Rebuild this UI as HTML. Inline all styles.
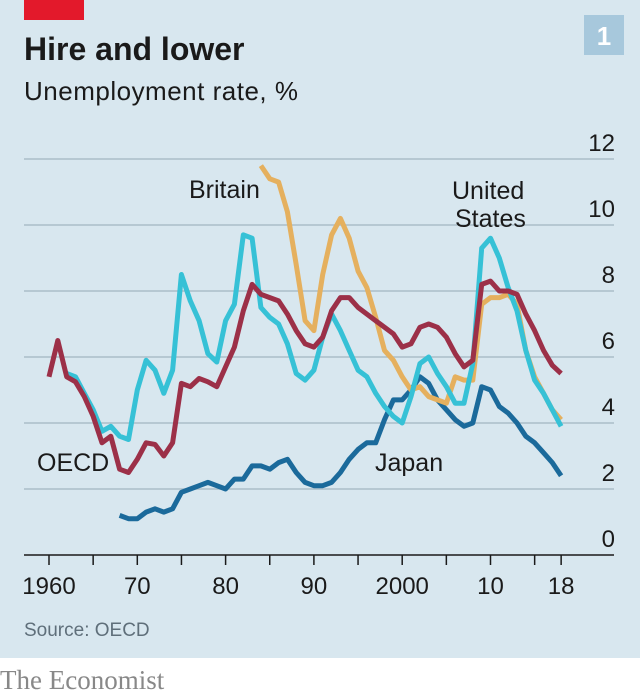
<!DOCTYPE html>
<html><head><meta charset="utf-8"><style>
html,body{margin:0;padding:0;background:#fff;}
svg{display:block;}
</style></head><body>
<svg width="640" height="697" viewBox="0 0 640 697" xmlns="http://www.w3.org/2000/svg" font-family="Liberation Sans, sans-serif">
<rect x="0" y="0" width="640" height="658" fill="#d8e7ef"/>
<rect x="24" y="0" width="60" height="20" fill="#e3192b"/>
<rect x="584" y="15" width="40" height="40" fill="#a7c8dc"/>
<text x="604" y="45" font-size="26" font-weight="bold" fill="#fff" text-anchor="middle">1</text>
<text x="24" y="60" font-size="32" font-weight="bold" fill="#1a1a1a">Hire and lower</text>
<text x="24" y="100" font-size="26" fill="#1a1a1a" textLength="274">Unemployment rate, %</text>
<g id="grid"></g>
<g id="series"></g>
<g id="labels"></g>
<text x="24" y="636" font-size="19" fill="#5f6f7a">Source: OECD</text>
<text x="0" y="689" font-size="27" fill="#888" font-family="Liberation Serif, serif">The Economist</text>
</svg>
<script>
const yTicks = [0,2,4,6,8,10,12];
const xTickYears = [1960,1965,1970,1975,1980,1985,1990,1995,2000,2005,2010,2015,2018];
const xLabelYears = [1960,1970,1980,1990,2000,2010,2018];
const xLabelText = ["1960","70","80","90","2000","10","18"];
const oecdStart = 1960;
const oecdValues = [5.4,6.5,5.4,5.25,4.8,4.2,3.4,3.6,2.6,2.5,2.9,3.4,3.35,3.0,3.4,5.2,5.1,5.35,5.25,5.1,5.7,6.3,7.4,8.2,7.9,7.8,7.7,7.3,6.8,6.4,6.3,6.6,7.4,7.8,7.8,7.5,7.3,7.1,6.9,6.7,6.3,6.4,6.9,7.0,6.9,6.6,6.1,5.7,5.9,8.2,8.3,8.0,8.0,7.9,7.3,6.8,6.2,5.75,5.5];
const usStart = 1962;
const usValues = [5.5,5.4,4.9,4.4,3.75,3.9,3.6,3.5,5.0,5.9,5.6,4.9,5.6,8.5,7.7,7.1,6.1,5.85,7.1,7.6,9.7,9.6,7.5,7.2,7.0,6.4,5.5,5.3,5.6,6.6,7.3,6.8,6.2,5.6,5.4,4.9,4.5,4.2,4.0,4.8,5.8,6.0,5.5,5.1,4.6,4.6,5.8,9.3,9.6,9.0,8.1,7.4,6.2,5.3,4.9,4.4,3.9];
const britainStart = 1984;
const britainValues = [11.8,11.4,11.3,10.4,8.8,7.1,6.8,8.5,9.7,10.2,9.6,8.6,8.1,7.2,6.2,5.9,5.4,5.0,5.1,4.8,4.7,4.6,5.4,5.3,5.3,7.6,7.8,7.8,7.9,7.6,6.2,5.4,4.9,4.4,4.1];
const japanStart = 1968;
const japanValues = [1.2,1.1,1.1,1.3,1.4,1.3,1.4,1.9,2.0,2.1,2.2,2.1,2.0,2.3,2.3,2.7,2.7,2.6,2.8,2.9,2.5,2.2,2.1,2.1,2.2,2.5,2.9,3.2,3.4,3.4,4.1,4.7,4.7,5.0,5.4,5.2,4.7,4.4,4.1,3.9,4.0,5.1,5.0,4.5,4.3,4.0,3.6,3.4,3.1,2.8,2.4];

const NS = "http://www.w3.org/2000/svg";
const xS = yr => 49 + (yr - 1960) * 8.83;
const yS = v => 555 - v * 33;
function mk(tag, attrs, parent){const e=document.createElementNS(NS,tag);for(const k in attrs)e.setAttribute(k,attrs[k]);parent.appendChild(e);return e;}
const grid=document.getElementById('grid'), series=document.getElementById('series'), labels=document.getElementById('labels');

yTicks.forEach(v=>{
  if(v>0){
    const l=mk('line',{x1:24,x2:614,y1:yS(v),y2:yS(v),stroke:'#aabdc8','stroke-width':1.5},grid);
    
    
  }
  const t=mk('text',{x:615,y:yS(v)-8,'font-size':24,fill:'#1a1a1a','text-anchor':'end'},grid);
  t.textContent=v;
  
  
});
const ax=mk('line',{x1:24,x2:614,y1:555,y2:555,stroke:'#1a1a1a','stroke-width':1.5},grid);


xTickYears.forEach(y=>{
  const l=mk('line',{x1:xS(y),x2:xS(y),y1:555,y2:565,stroke:'#1a1a1a','stroke-width':1.5},grid);
  
  
});
xLabelYears.forEach((y,i)=>{
  const t=mk('text',{x:xS(y),y:594,'font-size':24,fill:'#1a1a1a','text-anchor':'middle'},grid);
  t.textContent=xLabelText[i];
  
  
});

function line(start, vals, color, name){
  const d=vals.map((v,i)=>(i?'L':'M')+xS(start+i).toFixed(1)+','+yS(v).toFixed(1)).join(' ');
  const p=mk('path',{d:d,fill:'none',stroke:color,'stroke-width':5,'stroke-linejoin':'round'},series);
  
  
}
line(japanStart, japanValues, '#1b6a9b', 'japan-line');
line(britainStart, britainValues, '#e5b05e', 'britain-line');
line(usStart, usValues, '#36c1d6', 'united-states-line');
line(oecdStart, oecdValues, '#9c3048', 'oecd-line');

function lab(x,y,txt,name){
  const t=mk('text',{x:x,y:y,'font-size':25,fill:'#1a1a1a'},labels);
  t.textContent=txt;
  
  
}
lab(189,198,'Britain','britain-label');
lab(452,199,'United','united-states-label-line1');
lab(455,227,'States','united-states-label-line2');
lab(37,471,'OECD','oecd-label');
lab(375,471,'Japan','japan-label');
</script>
</body></html>
